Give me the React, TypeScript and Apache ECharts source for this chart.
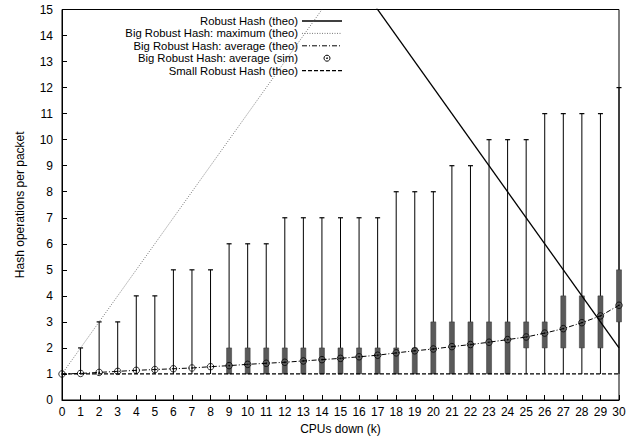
import React, { useEffect, useRef } from "react";
import * as echarts from "echarts";

const ks: number[] = [0,1,2,3,4,5,6,7,8,9,10,11,12,13,14,15,16,17,18,19,20,21,22,23,24,25,26,27,28,29,30];
const whiskerMin: number[] = [1,1,1,1,1,1,1,1,1,1,1,1,1,1,1,1,1,1,1,1,1,1,1,1,1,1,1,1,1,1,1];
const boxLow: number[] =    [1,1,1,1,1,1,1,1,1,1,1,1,1,1,1,1,1,1,1,1,1,1,1,1,1,2,2,2,2,2,3];
const boxHigh: number[] =   [1,1,1,1,1,1,1,1,1,2,2,2,2,2,2,2,2,2,2,2,3,3,3,3,3,3,3,4,4,4,5];
const whiskerMax: number[] = [1,2,3,3,4,4,5,5,5,6,6,6,7,7,7,7,7,7,8,8,8,9,9,10,10,10,11,11,11,11,12];
const avgSim: number[] = [1.0,1.02,1.06,1.1,1.14,1.17,1.2,1.23,1.28,1.32,1.37,1.41,1.45,1.5,1.55,1.6,1.66,1.72,1.81,1.89,1.96,2.05,2.13,2.22,2.32,2.42,2.57,2.74,2.97,3.23,3.64];
const avgTheo: number[] = [1.0,1.02,1.06,1.1,1.14,1.17,1.2,1.23,1.28,1.32,1.37,1.41,1.45,1.5,1.55,1.6,1.66,1.72,1.81,1.89,1.96,2.05,2.13,2.22,2.32,2.42,2.57,2.74,2.97,3.23,3.64];
const robustHashK: number[] = [0, 30];
const robustHashV: number[] = [32, 2];
const bigMaxK: number[] = [0, 14];
const bigMaxV: number[] = [1, 15];
const smallK: number[] = [0, 30];
const smallV: number[] = [1, 1];
const legendNames: string[] = [
  "Robust Hash (theo)",
  "Big Robust Hash: maximum (theo)",
  "Big Robust Hash: average (theo)",
  "Big Robust Hash: average (sim)",
  "Small Robust Hash (theo)",
];

const FONT = "'Liberation Sans', Arial, Helvetica, sans-serif";

const lineStyles: any[] = [
  { stroke: "#000", lineWidth: 1.3 },
  { stroke: "#555", lineWidth: 0.8, lineDash: [1, 1.5] },
  { stroke: "#000", lineWidth: 1, lineDash: [5, 2, 1, 2] },
  null,
  { stroke: "#000", lineWidth: 1.2, lineDash: [4, 2] },
];

export default function App() {
  const ref = useRef<HTMLDivElement>(null);
  useEffect(() => {
    if (!ref.current) return;
    const chart = echarts.init(ref.current, null, { renderer: "svg" });
    const boxData = ks.map((k, i) => [k, whiskerMin[i], boxLow[i], boxHigh[i], whiskerMax[i]]);

    const legendEls: any[] = [];
    const textRight = 298;
    const sampleX1 = 302;
    const sampleX2 = 342;
    const rowTop = 21;
    const rowStep = 12.4;
    legendNames.forEach((name, i) => {
      const y = rowTop + i * rowStep;
      legendEls.push({
        type: "text",
        x: textRight,
        y,
        style: { text: name, fontSize: 11.3, lineHeight: 11, fontFamily: FONT, fill: "#000", align: "right", verticalAlign: "middle" },
      });
      const ls = lineStyles[i];
      if (ls) {
        legendEls.push({ type: "line", shape: { x1: sampleX1, y1: y, x2: sampleX2, y2: y }, style: { ...ls } });
      } else {
        legendEls.push({ type: "circle", shape: { cx: 327, cy: y, r: 3 }, style: { fill: "none", stroke: "#000", lineWidth: 1 } });
        legendEls.push({ type: "circle", shape: { cx: 327, cy: y, r: 0.8 }, style: { fill: "#000" } });
      }
    });

    const option: any = {
      animation: false,
      textStyle: { fontFamily: FONT },
      grid: { left: 62, right: 25, top: 9.5, bottom: 45, show: true, borderColor: "#000", borderWidth: 1, backgroundColor: "transparent" },
      graphic: legendEls,
      xAxis: {
        type: "value",
        min: 0,
        max: 30,
        interval: 1,
        name: "CPUs down (k)",
        nameLocation: "middle",
        nameGap: 23,
        nameTextStyle: { fontFamily: FONT, fontSize: 12, color: "#000" },
        axisLine: { show: true, lineStyle: { color: "#000", width: 1 } },
        axisTick: { show: true, inside: true, length: 5, lineStyle: { color: "#000" } },
        axisLabel: { fontFamily: FONT, fontSize: 12, color: "#000", margin: 6 },
        splitLine: { show: false },
      },
      yAxis: {
        type: "value",
        min: 0,
        max: 15,
        interval: 1,
        name: "Hash operations per packet",
        nameLocation: "middle",
        nameGap: 36,
        nameTextStyle: { fontFamily: FONT, fontSize: 12, color: "#000" },
        axisLine: { show: true, lineStyle: { color: "#000", width: 1 } },
        axisTick: { show: true, inside: true, length: 5, lineStyle: { color: "#000" } },
        axisLabel: { fontFamily: FONT, fontSize: 12, color: "#000", margin: 9 },
        splitLine: { show: false },
      },
      series: [
        {
          name: "boxes",
          type: "custom",
          z: 2,
          data: boxData,
          renderItem: (params: any, api: any) => {
            const x = api.value(0);
            const lo = api.coord([x, api.value(1)]);
            const q1 = api.coord([x, api.value(2)]);
            const q3 = api.coord([x, api.value(3)]);
            const hi = api.coord([x, api.value(4)]);
            const children: any[] = [];
            if (api.value(4) > api.value(1)) {
              children.push({ type: "line", shape: { x1: lo[0], y1: lo[1], x2: hi[0], y2: hi[1] }, style: { stroke: "#000", lineWidth: 1 } });
              children.push({ type: "line", shape: { x1: hi[0] - 2.5, y1: hi[1], x2: hi[0] + 2.5, y2: hi[1] }, style: { stroke: "#000", lineWidth: 1.2 } });
            }
            if (api.value(3) > api.value(2)) {
              children.push({ type: "rect", shape: { x: q3[0] - 2.5, y: q3[1], width: 5, height: q1[1] - q3[1] }, style: { fill: "#5a5a5a", stroke: "#333", lineWidth: 0.5 } });
            }
            return { type: "group", children };
          },
        },
        {
          name: legendNames[0],
          type: "line",
          clip: true,
          showSymbol: false,
          symbol: "none",
          z: 3,
          data: robustHashK.map((k, i) => [k, robustHashV[i]]),
          lineStyle: { color: "#000", width: 1.3, type: "solid" },
        },
        {
          name: legendNames[1],
          type: "line",
          clip: true,
          showSymbol: false,
          symbol: "none",
          z: 3,
          data: bigMaxK.map((k, i) => [k, bigMaxV[i]]),
          lineStyle: { color: "#555", width: 0.8, type: [1, 1.5] },
        },
        {
          name: legendNames[2],
          type: "line",
          clip: true,
          showSymbol: false,
          symbol: "none",
          z: 3,
          data: ks.map((k, i) => [k, avgTheo[i]]),
          lineStyle: { color: "#000", width: 1, type: [5, 2, 1, 2] },
        },
        {
          name: legendNames[3],
          type: "scatter",
          symbol: "circle",
          symbolSize: 6.5,
          z: 5,
          data: ks.map((k, i) => [k, avgSim[i]]),
          itemStyle: { color: "rgba(0,0,0,0)", borderColor: "#000", borderWidth: 1 },
        },
        {
          name: legendNames[3] + " dot",
          type: "scatter",
          symbol: "circle",
          symbolSize: 1.6,
          z: 5,
          data: ks.map((k, i) => [k, avgSim[i]]),
          itemStyle: { color: "#000" },
        },
        {
          name: legendNames[4],
          type: "line",
          clip: true,
          showSymbol: false,
          symbol: "none",
          z: 4,
          data: smallK.map((k, i) => [k, smallV[i]]),
          lineStyle: { color: "#000", width: 1.2, type: [4, 2] },
        },
      ],
    };
    chart.setOption(option);
    return () => chart.dispose();
  }, []);
  return <div ref={ref} style={{ width: 644, height: 445, position: "absolute", left: 0, top: 0, background: "#fff" }} />;
}
